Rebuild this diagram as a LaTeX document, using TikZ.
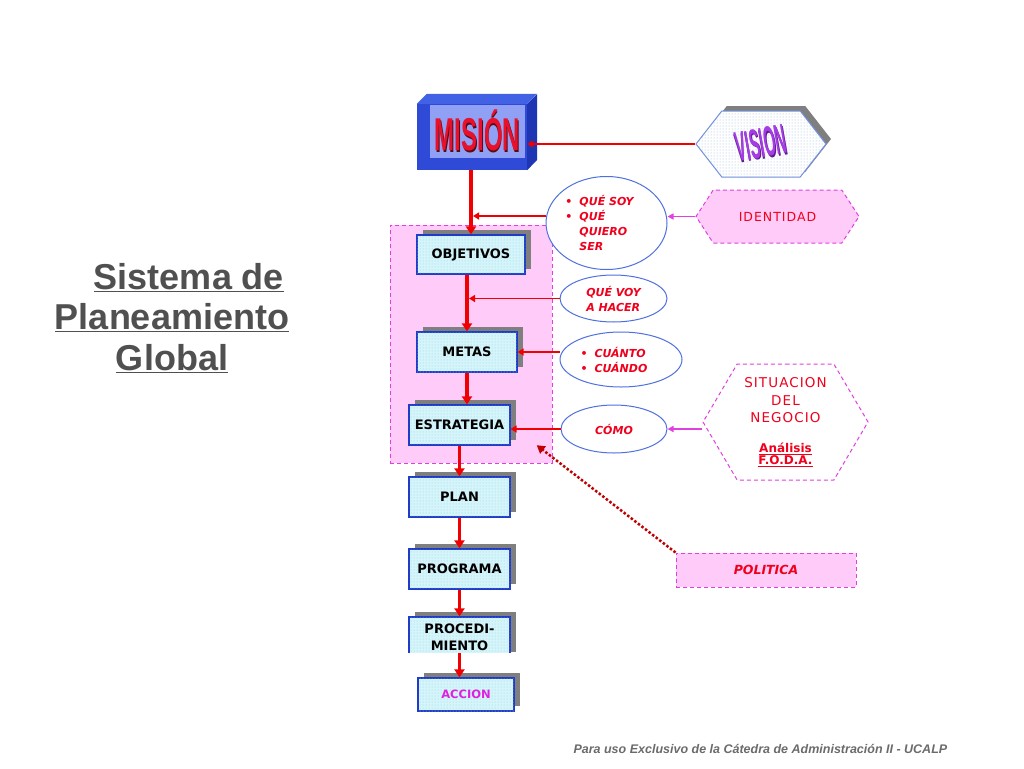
\documentclass[tikz,border=0pt]{standalone}
\usepackage{fontspec}
\setmainfont{Liberation Sans}
\newfontfamily\comic{DejaVu Sans}
\newfontfamily\comicancho[LetterSpace=8]{DejaVu Sans}
\usetikzlibrary{arrows.meta,shapes.geometric,shapes.symbols,shadows,patterns}

\definecolor{rojo}{HTML}{F00000}
\definecolor{rojotexto}{HTML}{F0001C}
\definecolor{rojopunto}{HTML}{C00000}
\definecolor{cajafondo}{HTML}{D6F5FB}
\definecolor{cajapunto}{HTML}{8CCFE0}
\definecolor{cajaborde}{HTML}{1E3CC8}
\definecolor{sombra}{HTML}{7F7F7F}
\definecolor{rosa}{HTML}{FFCCFA}
\definecolor{magborde}{HTML}{E040E0}
\definecolor{nubeborde}{HTML}{5070E0}
\definecolor{misfrente}{HTML}{2E4AD6}
\definecolor{mistope}{HTML}{4262E6}
\definecolor{mislado}{HTML}{1F36B4}
\definecolor{misinterior}{HTML}{8FA0F5}
\definecolor{misletra}{HTML}{E8102A}
\definecolor{missombra}{HTML}{5A0A14}
\definecolor{visborde}{HTML}{7090E0}
\definecolor{vispunto}{HTML}{9DB8DC}
\definecolor{visletra}{HTML}{A63CE6}
\definecolor{vissombra}{HTML}{5C1A8C}
\definecolor{accion}{HTML}{E020E0}
\definecolor{titulo}{HTML}{505050}
\definecolor{pie}{HTML}{6B6B6B}

\newcommand{\letrasombra}[3]{\makebox[0pt][l]{\raisebox{-1.5pt}{\hspace{1.5pt}\color{#2}#3}}{\color{#1}#3}}

\begin{document}
\begin{tikzpicture}[x=1pt,y=-1pt,
	caja/.style={rectangle, draw=cajaborde, line width=1.2pt,
		drop shadow={shadow xshift=6pt, shadow yshift=5pt, fill=sombra, opacity=1},
		fill=cajafondo, postaction={pattern=dots, pattern color=cajapunto},
		inner sep=0pt, align=center, font=\comic\bfseries\fontsize{13}{17}\selectfont},
	nube/.style={ellipse, draw=nubeborde, line width=1pt, fill=white, inner sep=0pt, align=left, text=rojotexto,
		font=\comic\bfseries\itshape\fontsize{11}{15}\selectfont},
	rosado/.style={draw=magborde, dash pattern=on 4pt off 3pt, line width=1pt, fill=rosa},
	hexa/.style={signal, signal to=west and east, inner sep=0pt, align=center},
	flecha/.style={draw=rojo, line width=3.5pt, -{Triangle[width=10pt,length=8pt]}},
	flechita/.style={draw=rojo, line width=1.8pt, -{Triangle[width=7pt,length=6pt]}},
	flechamag/.style={draw=magborde, line width=1.5pt, -{Triangle[width=6pt,length=6pt]}},
	punteado/.style={draw=rojopunto, line width=2.5pt, dash pattern=on 2.5pt off 2pt, -{Triangle[width=9pt,length=8pt]}}]

	\fill[white] (0,0) rectangle (1024,768);

	\node[text=titulo, font=\bfseries\fontsize{36}{40.5}\selectfont, align=center] (titulo) at (172,318)
		{\hspace*{34pt}\underline{Sistema de}\\\underline{Planeamiento}\\\underline{Global}};

	\node[rosado, minimum width=162pt, minimum height=238pt] (marco) at (471,344) {};

	% mision
	\node[fill=misfrente, minimum width=110pt, minimum height=66pt] (mis) at (472,137) {};
	\fill[mistope] (mis.north west) -- ++(10,-10) -- ++(110,0) -- (mis.north east) -- cycle;
	\fill[mislado] (mis.north east) -- ++(10,-10) -- ++(0,66) -- (mis.south east) -- cycle;
	\node[fill=misinterior, minimum width=95pt, minimum height=53pt, inner sep=0pt] (mistxt) at (477.5,131.5)
		{\scalebox{0.52}[1]{\fontsize{46}{46}\selectfont\bfseries\letrasombra{misletra}{missombra}{MISIÓN}}};

	\node[hexa, signal pointer angle=104, minimum width=130pt, minimum height=66pt, draw=visborde, line width=1pt,
		drop shadow={shadow xshift=5pt, shadow yshift=5pt, fill=sombra, opacity=1},
		fill=white, postaction={pattern=dots, pattern color=vispunto}] (vis) at (761,144)
		{\rotatebox{10}{\scalebox{0.36}[1]{\fontsize{42}{42}\selectfont\bfseries\letrasombra{visletra}{vissombra}{VISION}}}};

	\node[hexa, rosado, signal pointer angle=114, minimum width=163pt, minimum height=53pt, text=rojotexto,
		font=\comicancho\fontsize{12.5}{13}\selectfont] (ide) at (777.5,216.5) {IDENTIDAD};
	\node[hexa, draw=magborde, dash pattern=on 4pt off 3pt, line width=1pt, fill=white, signal pointer angle=119,
		minimum width=165pt, minimum height=116pt, text=rojotexto, font=\comicancho\fontsize{13.5}{17.5}\selectfont] (sit) at (785.5,422)
		{SITUACION\\DEL\\NEGOCIO\\[12pt]{\comic\bfseries\fontsize{12}{12}\selectfont\underline{Análisis}}\\[-5.5pt]{\comic\bfseries\fontsize{12}{12}\selectfont\underline{F.O.D.A.}}};
	\node[rosado, minimum width=180pt, minimum height=34pt, text=rojotexto, font=\comic\bfseries\itshape\fontsize{12.5}{14}\selectfont] (pol) at (766,570) {POLITICA};

	\node[caja, minimum width=108pt, minimum height=39pt] (obj) at (471,254.5) {OBJETIVOS};
	\node[caja, minimum width=100pt, minimum height=40pt] (met) at (467,352) {METAS};
	\node[caja, minimum width=101pt, minimum height=40pt] (est) at (459.5,425) {ESTRATEGIA};
	\node[caja, minimum width=101pt, minimum height=40pt] (plan) at (459.5,497) {PLAN};
	\node[caja, minimum width=101pt, minimum height=40pt] (prog) at (459.5,569) {PROGRAMA};
	\begin{scope}
		\clip (380,590) rectangle (540,652);
		\node[caja, minimum width=101pt, minimum height=40pt] (proc) at (459.5,637) {PROCEDI-\\MIENTO};
	\end{scope}
	\node[caja, minimum width=96pt, minimum height=33pt, text=accion, font=\comic\bfseries\fontsize{11.5}{12}\selectfont] (acc) at (466,694.5) {ACCION};

	\node[nube, minimum width=121pt, minimum height=93pt] (soy) at (606.5,223)
		{\llap{\textbullet\hspace{7pt}}QUÉ SOY\\\llap{\textbullet\hspace{7pt}}QUÉ\\QUIERO\\SER};
	\node[nube, minimum width=107pt, minimum height=47pt] (voy) at (613.5,298.5) {QUÉ VOY\\A HACER};
	\node[nube, minimum width=122pt, minimum height=55pt] (cua) at (621,359.5)
		{\llap{\textbullet\hspace{7pt}}CUÁNTO\\\llap{\textbullet\hspace{7pt}}CUÁNDO};
	\node[nube, minimum width=106pt, minimum height=48pt] (como) at (614,429) {CÓMO};

	\draw[flechita, line width=2.5pt] (vis.west) -- (vis.west -| mis.east);
	\draw[flecha] (mis.south -| obj.north) -- (obj.north);
	\draw[flecha] (obj.south -| met.north) -- (met.north);
	\draw[flecha] (met.south) -- (met.south |- est.north);
	\draw[flecha] (est.south) -- (plan.north);
	\draw[flecha] (plan.south) -- (prog.north);
	\draw[flecha] (prog.south) -- (proc.north);
	\draw[flecha] ([yshift=5pt]proc.south) -- (proc.south |- acc.north);

	\draw[flechita, shorten >=2pt] ([yshift=7pt]soy.west) -- ([yshift=7pt]soy.west -| obj.north);
	\draw[flechita, shorten >=2pt] (voy.west) -- (voy.west -| met.north);
	\draw[flechita] (cua.west |- met.east) -- (met.east);
	\draw[flechita] (como.west) -- (como.west -| est.east);
	\draw[flechamag] (ide.west) -- (ide.west -| soy.east);
	\draw[flechamag] (como.east -| sit.west) -- (como.east);
	\draw[punteado, shorten >=33pt] (pol.north west) -- (est.east);

	\node[text=pie, font=\bfseries\itshape\fontsize{12.5}{14}\selectfont, anchor=base west] (pie) at (570,753)
		{Para uso Exclusivo de la Cátedra de Administración II - UCALP};
\end{tikzpicture}
\end{document}
